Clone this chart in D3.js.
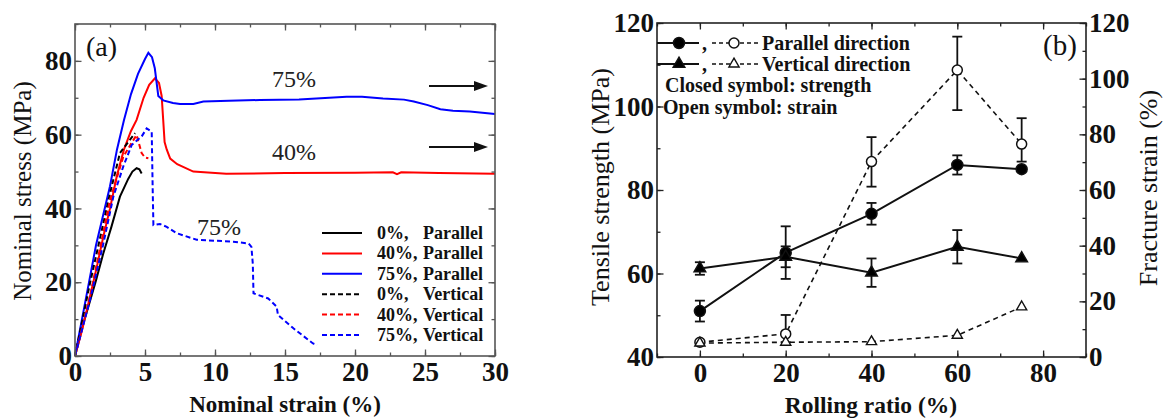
<!DOCTYPE html>
<html>
<head>
<meta charset="utf-8">
<script src="https://d3js.org/d3.v7.min.js"></script>
<style>
  body { margin: 0; background: #fff; }
  svg { display: block; font-family: "Liberation Serif", "Tinos", "Times New Roman", "DejaVu Serif", serif; }
</style>
</head>
<body>
<div id="chart"></div>
<script>
'use strict';

const FONT = '"Liberation Serif", "Tinos", "Times New Roman", "DejaVu Serif", serif';

// ---- panel (a): nominal stress-strain curves ----
const strain0P  = [0, 0.6, 1.0, 1.5, 2.02, 2.6, 3.21, 3.8, 4.1, 4.4, 4.6, 4.76];
const stress0P  = [0, 8.9, 14, 20.5, 27.8, 35, 43.2, 48, 50, 50.9, 50.6, 49.5];
const strain40P = [0, 0.5, 1.0, 1.55, 2.0, 2.5, 3.0, 3.5, 4.0, 4.4, 4.9, 5.3, 5.71, 6.0, 6.19, 6.3, 6.4, 6.55, 6.8, 7.3, 8.45, 10.8, 15, 20, 22.7, 23.0, 23.3, 26, 30];
const stress40P = [0, 7, 15, 24, 32, 40, 49, 56, 61, 64, 70, 73.5, 75.3, 74, 70.5, 64, 58, 56, 53.5, 52, 50, 49.4, 49.6, 49.7, 49.8, 49.3, 49.8, 49.6, 49.4];
const strain75P = [0, 0.4, 0.9, 1.5, 2.0, 2.5, 3.0, 3.5, 4.0, 4.5, 5.0, 5.24, 5.5, 5.7, 5.95, 6.3, 7.0, 7.5, 8.45, 9.17, 11, 13.2, 16, 19.4, 20.5, 22, 23.5, 24.2, 25.2, 26.1, 27, 28.2, 30];
const stress75P = [0, 8, 18, 30, 38, 46, 56, 64, 71, 76.5, 80.5, 82.2, 81, 78, 70.5, 69.3, 68.6, 68.3, 68.3, 69, 69.2, 69.4, 69.5, 70.3, 70.3, 69.8, 69.5, 69, 68, 66.9, 66.5, 66.3, 65.6];
const strain0V  = [0, 1.07, 2.5, 3.21, 3.8, 4.29];
const stress0V  = [0, 19.7, 44.1, 55, 58, 60.4];
const strain40V = [0, 1.07, 2.5, 3.45, 4.0, 4.4, 4.76, 5.0, 5.24];
const stress40V = [0, 16.1, 42.3, 54, 57.5, 59.9, 55, 53.8, 53.6];
const strain75V = [0, 1.07, 2.0, 2.74, 3.45, 4.05, 4.76, 5.12, 5.48, 5.55, 5.6, 6.07, 6.55, 7.26, 8.69, 11.3, 12.4, 12.6, 12.7, 12.75, 13.8, 14.4, 14.5, 15.6, 17, 17.3];
const stress75V = [0, 15.2, 30, 43.2, 51.4, 57.2, 59.5, 61.7, 60.8, 45, 35.5, 35.8, 35, 33.3, 31.5, 31, 30.5, 29.6, 25, 17, 15.6, 13.4, 11.1, 7.5, 3.4, 3];

const legendPrefixA = ['0%,', '40%,', '75%,', '0%,', '40%,', '75%,'];
const legendWordA   = ['Parallel', 'Parallel', 'Parallel', 'Vertical', 'Vertical', 'Vertical'];

const xTicksA = [0, 5, 10, 15, 20, 25, 30];
const yTicksA = [0, 20, 40, 60, 80];

// ---- panel (b): strength and fracture strain vs rolling ratio ----
const rollingRatio          = [0, 20, 40, 60, 75];
const strengthParallel      = [51, 65, 74.3, 86, 85];
const strengthParallelErr   = [2.5, 6.3, 2.6, 2.3, 0];
const strengthVertical      = [61.2, 64, 60.2, 66.4, 63.6];
const strengthVerticalErr   = [1.5, 2.5, 3.4, 4, 0];
const strainParallel        = [5.3, 8.3, 70.2, 103.1, 76.5];
const strainParallelErrUp   = [0, 6.8, 8.8, 12, 9.3];
const strainParallelErrDown = [0, 3, 9, 14.4, 6.3];
const strainVertical        = [5, 5.3, 5.5, 7.8, 18];

const xTicksB  = [0, 20, 40, 60, 80];
const yTicksBL = [40, 60, 80, 100, 120];
const yTicksBR = [0, 20, 40, 60, 80, 100, 120];


const W = 1163, H = 418;
const svg = d3.select('#chart').append('svg')
    .attr('width', W)
    .attr('height', H)
    .attr('font-family', FONT);

svg.append('rect').attr('width', W).attr('height', H).attr('fill', '#fff');

const TICK_FONT = 27;

// draws inward ticks on all four sides plus the frame
function drawFrame(g, xs, ys, o){
    const [x0, x1] = xs.range();
    const [y0, y1] = ys.range();
    const color = o.color;

    function style(sel){
        sel.select('.domain').remove();
        sel.selectAll('line').attr('stroke', color).attr('stroke-width', 1.3);
        sel.attr('font-family', FONT)
            .attr('font-weight', 'bold')
            .attr('font-size', TICK_FONT);
        sel.selectAll('text').attr('fill', '#111');
    }

    // bottom
    g.append('g').attr('transform', `translate(0,${y0})`)
        .call(d3.axisBottom(xs).tickValues(o.xMinor).tickSize(-3.5).tickFormat(''))
        .call(style);
    g.append('g').attr('transform', `translate(0,${y0})`)
        .call(d3.axisBottom(xs).tickValues(o.xTicks).tickSize(-6.5).tickPadding(6).tickFormat(d3.format('d')))
        .call(style);
    // top
    g.append('g').attr('transform', `translate(0,${y1})`)
        .call(d3.axisTop(xs).tickValues(o.xMinor).tickSize(-3.5).tickFormat(''))
        .call(style);
    g.append('g').attr('transform', `translate(0,${y1})`)
        .call(d3.axisTop(xs).tickValues(o.xTicks).tickSize(-6.5).tickFormat(''))
        .call(style);
    // left
    g.append('g').attr('transform', `translate(${x0},0)`)
        .call(d3.axisLeft(ys).tickValues(o.yMinor).tickSize(-3.5).tickFormat(''))
        .call(style);
    g.append('g').attr('transform', `translate(${x0},0)`)
        .call(d3.axisLeft(ys).tickValues(o.yTicks).tickSize(-6.5).tickPadding(3).tickFormat(d3.format('d')))
        .call(style);
    // right
    const yr = o.yRight || ys;
    g.append('g').attr('transform', `translate(${x1},0)`)
        .call(d3.axisRight(yr).tickValues(o.yRightMinor || o.yMinor).tickSize(-3.5).tickFormat(''))
        .call(style);
    const rightAxis = d3.axisRight(yr).tickValues(o.yRightTicks || o.yTicks).tickSize(-6.5).tickPadding(3);
    rightAxis.tickFormat(o.yRight ? d3.format('d') : '');
    g.append('g').attr('transform', `translate(${x1},0)`)
        .call(rightAxis)
        .call(style);

    g.append('rect')
        .attr('x', x0).attr('y', y1)
        .attr('width', x1 - x0).attr('height', y0 - y1)
        .attr('fill', 'none')
        .attr('stroke', color)
        .attr('stroke-width', 1.6);
}


// ================= panel (a) =================
const ax = d3.scaleLinear().domain([0, 30]).range([75, 495]);
const ay = d3.scaleLinear().domain([0, 90]).range([356, 24]);
const ga = svg.append('g');

const seriesA = [
    { x: strain0P,  y: stress0P,  color: '#000', dash: null },
    { x: strain40P, y: stress40P, color: '#ff0000', dash: null },
    { x: strain75P, y: stress75P, color: '#0000ff', dash: null },
    { x: strain0V,  y: stress0V,  color: '#000', dash: '5,3' },
    { x: strain40V, y: stress40V, color: '#ff0000', dash: '5,3' },
    { x: strain75V, y: stress75V, color: '#0000ff', dash: '5,3' }
];

const lineA = d3.line().x(d => ax(d[0])).y(d => ay(d[1]));

ga.selectAll('path.curve')
    .data(seriesA)
    .enter()
    .append('path')
    .attr('class', 'curve')
    .attr('d', s => lineA(s.x.map((v, i) => [v, s.y[i]])))
    .attr('fill', 'none')
    .attr('stroke', s => s.color)
    .attr('stroke-width', 2)
    .attr('stroke-dasharray', s => s.dash);

drawFrame(ga, ax, ay, {
    color: '#555',
    xTicks: xTicksA,
    xMinor: d3.range(0, 30.1, 2.5),
    yTicks: yTicksA,
    yMinor: d3.range(0, 90.1, 10)
});

// legend
const legA = ga.append('g');
seriesA.forEach((s, i) => {
    const y = 233 + i * 20.4;
    legA.append('line')
        .attr('x1', 322).attr('x2', 362)
        .attr('y1', y).attr('y2', y)
        .attr('stroke', s.color)
        .attr('stroke-width', 2)
        .attr('stroke-dasharray', s.dash);
    legA.append('text')
        .attr('x', 377).attr('y', y + 6)
        .attr('font-size', 18).attr('font-weight', 'bold')
        .attr('fill', '#111')
        .text(legendPrefixA[i]);
    legA.append('text')
        .attr('x', 423).attr('y', y + 6)
        .attr('font-size', 18).attr('font-weight', 'bold')
        .attr('fill', '#111')
        .text(legendWordA[i]);
});

// annotations
const notes = [
    { t: '75%', x: 294, y: 87 },
    { t: '40%', x: 294, y: 160 },
    { t: '75%', x: 219, y: 235 }
];
ga.selectAll('text.note')
    .data(notes)
    .enter()
    .append('text')
    .attr('class', 'note')
    .attr('x', d => d.x).attr('y', d => d.y)
    .attr('text-anchor', 'middle')
    .attr('font-size', 24)
    .attr('fill', '#222')
    .text(d => d.t);

[86, 147].forEach(y => {
    ga.append('line')
        .attr('x1', 429).attr('x2', 476)
        .attr('y1', y).attr('y2', y)
        .attr('stroke', '#111').attr('stroke-width', 2);
    ga.append('path')
        .attr('d', `M474,${y - 5}L488,${y}L474,${y + 5}Z`)
        .attr('fill', '#111');
});

ga.append('text')
    .attr('x', 86).attr('y', 56)
    .attr('font-size', 28)
    .attr('fill', '#111')
    .text('(a)');

ga.append('text')
    .attr('transform', 'translate(31,191) rotate(-90)')
    .attr('text-anchor', 'middle')
    .attr('font-size', 25)
    .attr('fill', '#111')
    .text('Nominal stress (MPa)');

ga.append('text')
    .attr('x', 285).attr('y', 412)
    .attr('text-anchor', 'middle')
    .attr('font-size', 23).attr('font-weight', 'bold')
    .attr('fill', '#111')
    .text('Nominal strain (%)');


// ================= panel (b) =================
const bx  = d3.scaleLinear().domain([-10, 90]).range([657, 1086]);
const byL = d3.scaleLinear().domain([40, 120]).range([357, 23]);
const byR = d3.scaleLinear().domain([0, 120]).range([357, 23]);
const gb = svg.append('g');

const seriesB = [
    { y: strengthParallel, up: strengthParallelErr, down: strengthParallelErr, scale: byL, dash: null, marker: 'circle', fill: '#000' },
    { y: strengthVertical, up: strengthVerticalErr, down: strengthVerticalErr, scale: byL, dash: null, marker: 'triangle', fill: '#000' },
    { y: strainParallel, up: strainParallelErrUp, down: strainParallelErrDown, scale: byR, dash: '5,4', marker: 'circle', fill: '#fff' },
    { y: strainVertical, up: null, down: null, scale: byR, dash: '5,4', marker: 'triangle', fill: '#fff' }
];

seriesB.forEach(s => {
    const line = d3.line().x((d, i) => bx(rollingRatio[i])).y(d => s.scale(d));
    gb.append('path')
        .attr('d', line(s.y))
        .attr('fill', 'none')
        .attr('stroke', '#111')
        .attr('stroke-width', s.dash ? 1.6 : 2)
        .attr('stroke-dasharray', s.dash);
});

// error bars
seriesB.forEach(s => {
    if(!s.up) return;
    s.y.forEach((v, i) => {
        if(s.up[i] <= 0) return;
        const x = bx(rollingRatio[i]);
        const top = s.scale(v + s.up[i]), bot = s.scale(v - s.down[i]);
        gb.append('line').attr('x1', x).attr('x2', x).attr('y1', top).attr('y2', bot)
            .attr('stroke', '#111').attr('stroke-width', 1.8);
        [top, bot].forEach(yy => {
            gb.append('line').attr('x1', x - 5).attr('x2', x + 5).attr('y1', yy).attr('y2', yy)
                .attr('stroke', '#111').attr('stroke-width', 1.8);
        });
    });
});

function marker(g, type, fill, x, y){
    if(type === 'circle'){
        g.append('circle')
            .attr('cx', x).attr('cy', y)
            .attr('r', fill === '#fff' ? 5 : 5.5)
            .attr('fill', fill)
            .attr('stroke', '#111').attr('stroke-width', 1.5);
    } else {
        g.append('path')
            .attr('d', d3.symbol(d3.symbolTriangle, fill === '#fff' ? 45 : 60)())
            .attr('transform', `translate(${x},${y})`)
            .attr('fill', fill)
            .attr('stroke', '#111').attr('stroke-width', 1.4);
    }
}

seriesB.forEach(s => {
    s.y.forEach((v, i) => marker(gb, s.marker, s.fill, bx(rollingRatio[i]), s.scale(v)));
});

drawFrame(gb, bx, byL, {
    color: '#222',
    xTicks: xTicksB,
    xMinor: d3.range(-10, 90.1, 10),
    yTicks: yTicksBL,
    yMinor: d3.range(40, 120.1, 10),
    yRight: byR,
    yRightTicks: yTicksBR,
    yRightMinor: d3.range(0, 120.1, 10)
});

// legend
const legB = gb.append('g');
const legRows = [
    { y: 43, marker: 'circle', label: 'Parallel direction' },
    { y: 64, marker: 'triangle', label: 'Vertical direction' }
];
legRows.forEach(r => {
    legB.append('line').attr('x1', 657).attr('x2', 699).attr('y1', r.y).attr('y2', r.y)
        .attr('stroke', '#111').attr('stroke-width', 2);
    marker(legB, r.marker, '#000', 679, r.y);
    legB.append('text').attr('x', 702).attr('y', r.y + 7)
        .attr('font-size', 20).attr('font-weight', 'bold').attr('fill', '#111').text(',');
    legB.append('line').attr('x1', 712).attr('x2', 758).attr('y1', r.y).attr('y2', r.y)
        .attr('stroke', '#111').attr('stroke-width', 1.6).attr('stroke-dasharray', '4,3');
    marker(legB, r.marker, '#fff', 734, r.y);
    legB.append('text').attr('x', 762).attr('y', r.y + 7)
        .attr('font-size', 20).attr('font-weight', 'bold').attr('fill', '#111').text(r.label);
});
legB.append('text').attr('x', 665).attr('y', 92)
    .attr('font-size', 20).attr('font-weight', 'bold').attr('fill', '#111').text('Closed symbol: strength');
legB.append('text').attr('x', 663).attr('y', 114)
    .attr('font-size', 20).attr('font-weight', 'bold').attr('fill', '#111').text('Open symbol: strain');

gb.append('text')
    .attr('x', 1043).attr('y', 55)
    .attr('font-size', 29)
    .attr('fill', '#111')
    .text('(b)');

gb.append('text')
    .attr('transform', 'translate(609,187) rotate(-90)')
    .attr('text-anchor', 'middle')
    .attr('font-size', 26)
    .attr('fill', '#111')
    .text('Tensile strength (MPa)');

gb.append('text')
    .attr('transform', 'translate(1157,188) rotate(-90)')
    .attr('text-anchor', 'middle')
    .attr('font-size', 26)
    .attr('fill', '#111')
    .text('Fracture strain (%)');

gb.append('text')
    .attr('x', 871).attr('y', 413)
    .attr('text-anchor', 'middle')
    .attr('font-size', 23.5).attr('font-weight', 'bold')
    .attr('fill', '#111')
    .text('Rolling ratio (%)');
</script>
</body>
</html>
